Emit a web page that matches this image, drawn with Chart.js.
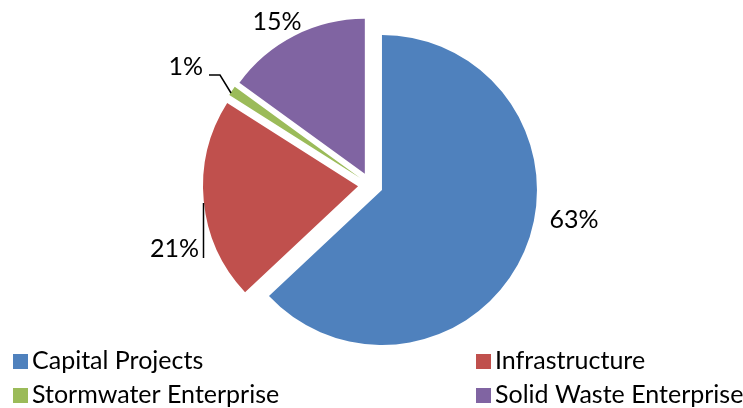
<!DOCTYPE html>
<html>
<head>
<meta charset="utf-8">
<script src="https://cdn.jsdelivr.net/npm/chart.js@4.4.1/dist/chart.umd.min.js"></script>
<style>
  html, body { margin: 0; padding: 0; background: #ffffff; }
  #wrap { position: relative; width: 743px; height: 408px; }
</style>
</head>
<body>
<div id="wrap"><canvas id="c" width="743" height="408"></canvas></div>
<script>
// ---- data ----
const categories = ["Capital Projects", "Infrastructure", "Stormwater Enterprise", "Solid Waste Enterprise"];
const shares = [63, 21, 1, 15];
const shareLabels = ["63%", "21%", "1%", "15%"];
const sliceColors = ["#4F81BD", "#C0504D", "#9BBB59", "#8064A2"];

const FONT = "Lato, 'Open Sans', sans-serif";
const FONT_SIZE = 25;

// Explode every slice outward along its mid-angle
const explodePlugin = {
  id: 'explode',
  beforeDatasetsDraw(chart, args, opts) {
    const a = chart.chartArea;
    const cx = (a.left + a.right) / 2, cy = (a.top + a.bottom) / 2;
    const meta = chart.getDatasetMeta(0);
    meta.data.forEach(arc => {
      const mid = (arc.startAngle + arc.endAngle) / 2;
      arc.x = cx + Math.cos(mid) * opts.distance;
      arc.y = cy + Math.sin(mid) * opts.distance;
    });
  }
};

// Percentage labels with leader lines
const labelPlugin = {
  id: 'pctLabels',
  afterDatasetsDraw(chart, args, opts) {
    const ctx = chart.ctx;
    ctx.save();
    ctx.font = FONT_SIZE + "px " + FONT;
    ctx.fillStyle = "#000";
    ctx.textBaseline = "alphabetic";
    opts.layout.forEach((p, i) => {
      ctx.textAlign = p.align;
      ctx.fillText(shareLabels[i], p.x, p.y);
      if (p.leader) {
        ctx.beginPath();
        ctx.strokeStyle = "#000";
        ctx.lineWidth = 1.5;
        p.leader.forEach((pt, k) => k ? ctx.lineTo(pt[0], pt[1]) : ctx.moveTo(pt[0], pt[1]));
        ctx.stroke();
      }
    });
    ctx.restore();
  }
};

// Two-column legend at the bottom
const legendPlugin = {
  id: 'gridLegend',
  afterDraw(chart, args, opts) {
    const ctx = chart.ctx;
    const ds = chart.data.datasets[0];
    ctx.save();
    ctx.font = FONT_SIZE + "px " + FONT;
    ctx.fillStyle = "#000";
    ctx.textBaseline = "alphabetic";
    ctx.textAlign = "left";
    chart.data.labels.forEach((lab, i) => {
      const col = i % 2, row = Math.floor(i / 2);
      const x = opts.colX[col], y = opts.rowY[row];
      ctx.fillStyle = ds.backgroundColor[i];
      ctx.fillRect(x, y - opts.box, opts.box, opts.box);
      ctx.fillStyle = "#000";
      ctx.fillText(lab, x + opts.box + 4, y);
    });
    ctx.restore();
  }
};

new Chart(document.getElementById('c'), {
  type: 'pie',
  data: {
    labels: categories,
    datasets: [{
      data: shares,
      backgroundColor: sliceColors,
      borderWidth: 0,
      radius: 155
    }]
  },
  options: {
    responsive: false,
    animation: false,
    events: [],
    layout: { padding: { left: 0, right: 2, top: 0, bottom: 38 } },
    plugins: {
      legend: { display: false },
      tooltip: { enabled: false },
      explode: { distance: 12.5 },
      pctLabels: {
        layout: [
          { x: 574, y: 228, align: 'center' },
          { x: 199, y: 256.5, align: 'right', leader: [[203.5, 203], [203.5, 258]] },
          { x: 203, y: 75, align: 'right', leader: [[209, 75], [220, 75], [231, 93]] },
          { x: 277, y: 29.5, align: 'center' }
        ]
      },
      gridLegend: { colX: [13, 476], rowY: [369, 403], box: 15 }
    }
  },
  plugins: [explodePlugin, labelPlugin, legendPlugin]
});
</script>
</body>
</html>
